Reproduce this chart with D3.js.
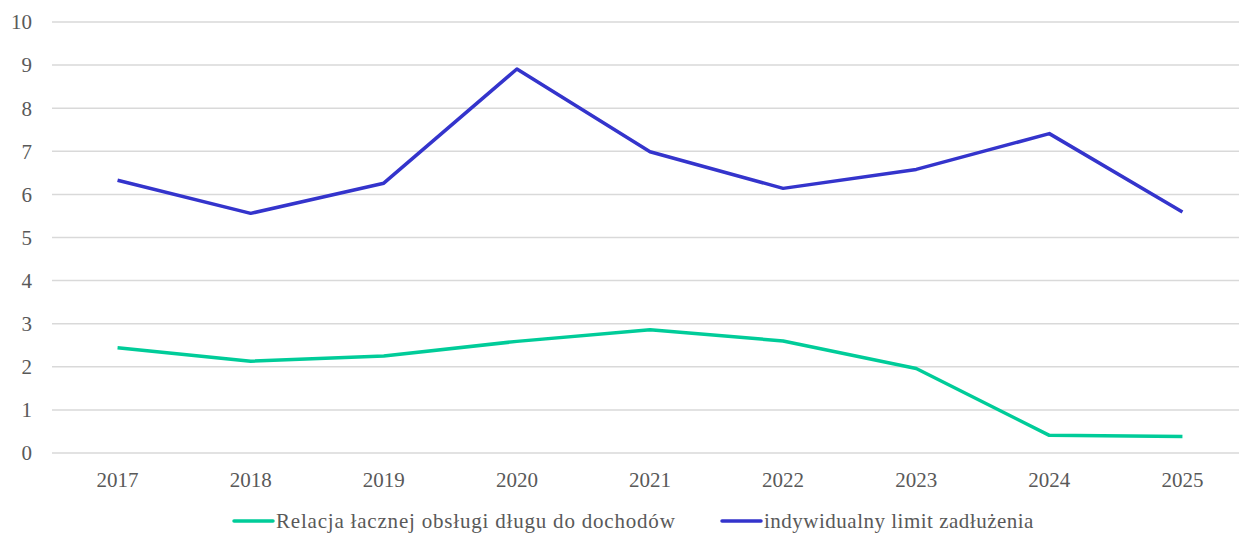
<!DOCTYPE html>
<html>
<head>
<meta charset="utf-8">
<script src="https://cdn.jsdelivr.net/npm/d3@7"></script>
<style>
body { margin: 0; background: #fff; }
svg { display: block; }
</style>
</head>
<body>
<svg width="1239" height="534"></svg>
<script>
var years = ['2017', '2018', '2019', '2020', '2021', '2022', '2023', '2024', '2025'];
var relacja = [2.44, 2.13, 2.25, 2.59, 2.86, 2.6, 1.96, 0.41, 0.38];
var limit = [6.33, 5.56, 6.26, 8.91, 6.99, 6.14, 6.58, 7.41, 5.59];
var yTicks = [0, 1, 2, 3, 4, 5, 6, 7, 8, 9, 10];
var seriesNames = ['Relacja łacznej obsługi długu do dochodów', 'indywidualny limit zadłużenia'];
var seriesColors = ['#00cc99', '#3434cc'];

var font = "'Liberation Serif', 'DejaVu Serif', serif";
var svg = d3.select('svg');
var width = 1239;

var x = d3.scalePoint().domain(years).range([51, 1249]).padding(0.5);
var y = d3.scaleLinear().domain([0, 10]).range([453, 22]);

// gridlines
svg.append('g').selectAll('line')
  .data(yTicks)
  .enter()
  .append('line')
  .attr('x1', 52)
  .attr('x2', width)
  .attr('y1', function(d) { return y(d); })
  .attr('y2', function(d) { return y(d); })
  .attr('stroke', '#d9d9d9')
  .attr('stroke-width', 1.5);

// y labels
svg.append('g').selectAll('text')
  .data(yTicks)
  .enter()
  .append('text')
  .attr('x', 32)
  .attr('y', function(d) { return y(d); })
  .attr('dy', '0.35em')
  .attr('text-anchor', 'end')
  .attr('font-family', font)
  .attr('font-size', 21)
  .attr('fill', '#595959')
  .text(function(d) { return d; });

// x labels
svg.append('g').selectAll('text')
  .data(years)
  .enter()
  .append('text')
  .attr('x', function(d) { return x(d); })
  .attr('y', 487)
  .attr('text-anchor', 'middle')
  .attr('font-family', font)
  .attr('font-size', 21)
  .attr('fill', '#595959')
  .text(function(d) { return d; });

var line = d3.line()
  .x(function(d, i) { return x(years[i]); })
  .y(function(d) { return y(d); });

[relacja, limit].forEach(function(s, i) {
  svg.append('path')
    .datum(s)
    .attr('d', line)
    .attr('fill', 'none')
    .attr('stroke', seriesColors[i])
    .attr('stroke-width', 3.5)
    .attr('stroke-linejoin', 'round');
});

// legend
var legendX = [234, 722];
var legendSpacing = [0.8, 0.5];
var legend = svg.append('g').selectAll('g')
  .data(seriesNames)
  .enter()
  .append('g')
  .attr('transform', function(d, i) { return 'translate(' + legendX[i] + ',521)'; });

legend.append('line')
  .attr('x1', 0)
  .attr('x2', 39)
  .attr('stroke', function(d, i) { return seriesColors[i]; })
  .attr('stroke-width', 3.5)
  .attr('stroke-linecap', 'round');

legend.append('text')
  .attr('x', 42)
  .attr('dy', '0.35em')
  .attr('font-family', font)
  .attr('font-size', 21)
  .attr('letter-spacing', function(d, i) { return legendSpacing[i]; })
  .attr('fill', '#595959')
  .text(function(d) { return d; });
</script>
</body>
</html>
